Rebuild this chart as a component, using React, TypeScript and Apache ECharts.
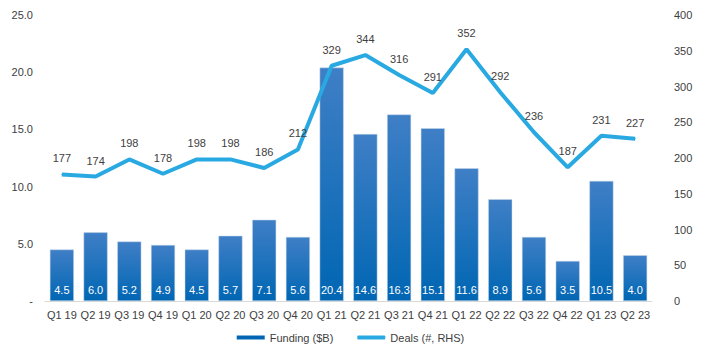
import React, { useEffect, useRef } from "react";
import * as echarts from "echarts";

const categories = ["Q1 19", "Q2 19", "Q3 19", "Q4 19", "Q1 20", "Q2 20", "Q3 20", "Q4 20", "Q1 21", "Q2 21", "Q3 21", "Q4 21", "Q1 22", "Q2 22", "Q3 22", "Q4 22", "Q1 23", "Q2 23"];
const funding = [4.5, 6.0, 5.2, 4.9, 4.5, 5.7, 7.1, 5.6, 20.4, 14.6, 16.3, 15.1, 11.6, 8.9, 5.6, 3.5, 10.5, 4.0];
const deals = [177, 174, 198, 178, 198, 198, 186, 212, 329, 344, 316, 291, 352, 292, 236, 187, 231, 227];

const FONT = "'Liberation Sans', Arial, sans-serif";

export default function App() {
  const ref = useRef<HTMLDivElement>(null);
  useEffect(() => {
    const chart = echarts.init(ref.current!, undefined, { renderer: "svg" });
    chart.setOption({
      animation: false,
      textStyle: { fontFamily: FONT },
      grid: { left: 45, right: 49, top: 15, bottom: 55 },
      legend: {
        bottom: 8,
        left: "center",
        itemWidth: 28,
        itemHeight: 4,
        itemGap: 24,
        textStyle: { color: "#404040", fontSize: 11, fontFamily: FONT },
        data: [
          { name: "Funding ($B)", icon: "rect", itemStyle: { color: "#0066b3", borderWidth: 0 } },
          { name: "Deals (#, RHS)", icon: "roundRect", itemStyle: { color: "#29a9e1", borderWidth: 0 } },
        ],
      },
      xAxis: {
        type: "category",
        data: categories,
        axisTick: { show: false },
        axisLine: { lineStyle: { color: "#d9d9d9" } },
        axisLabel: { color: "#404040", fontSize: 11, margin: 8, interval: 0 },
      },
      yAxis: [
        {
          type: "value",
          min: 0,
          max: 25,
          interval: 5,
          splitLine: { show: false },
          axisLine: { show: false },
          axisTick: { show: false },
          axisLabel: {
            color: "#404040",
            fontSize: 11,
            margin: 12,
            formatter: (v: number) => (v === 0 ? "-" : v.toFixed(1)),
          },
        },
        {
          type: "value",
          min: 0,
          max: 400,
          interval: 50,
          splitLine: { show: false },
          axisLine: { show: false },
          axisTick: { show: false },
          axisLabel: { color: "#404040", fontSize: 11, margin: 22 },
        },
      ],
      series: [
        {
          name: "Funding ($B)",
          type: "bar",
          data: funding,
          barWidth: 24,
          itemStyle: {
            color: new echarts.graphic.LinearGradient(0, 0, 0, 1, [
              { offset: 0, color: "#3f7fc6" },
              { offset: 1, color: "#0066b3" },
            ]),
            borderColor: "#c8d6e8",
            borderWidth: 0.5,
          },
          label: {
            show: true,
            position: "insideBottom",
            distance: 6,
            color: "#ffffff",
            fontSize: 11,
            formatter: (p: any) => Number(p.value).toFixed(1),
          },
        },
        {
          name: "Deals (#, RHS)",
          type: "line",
          yAxisIndex: 1,
          data: deals,
          symbol: "circle",
          symbolSize: 1,
          showSymbol: true,
          color: "#29a9e1",
          itemStyle: { color: "#29a9e1" },
          lineStyle: { color: "#29a9e1", width: 4 },
          label: {
            show: true,
            position: "top",
            distance: 10,
            color: "#404040",
            fontSize: 11,
          },
        },
      ],
    });
    return () => chart.dispose();
  }, []);
  return <div ref={ref} style={{ width: 701, height: 356, margin: -8 }} />;
}
